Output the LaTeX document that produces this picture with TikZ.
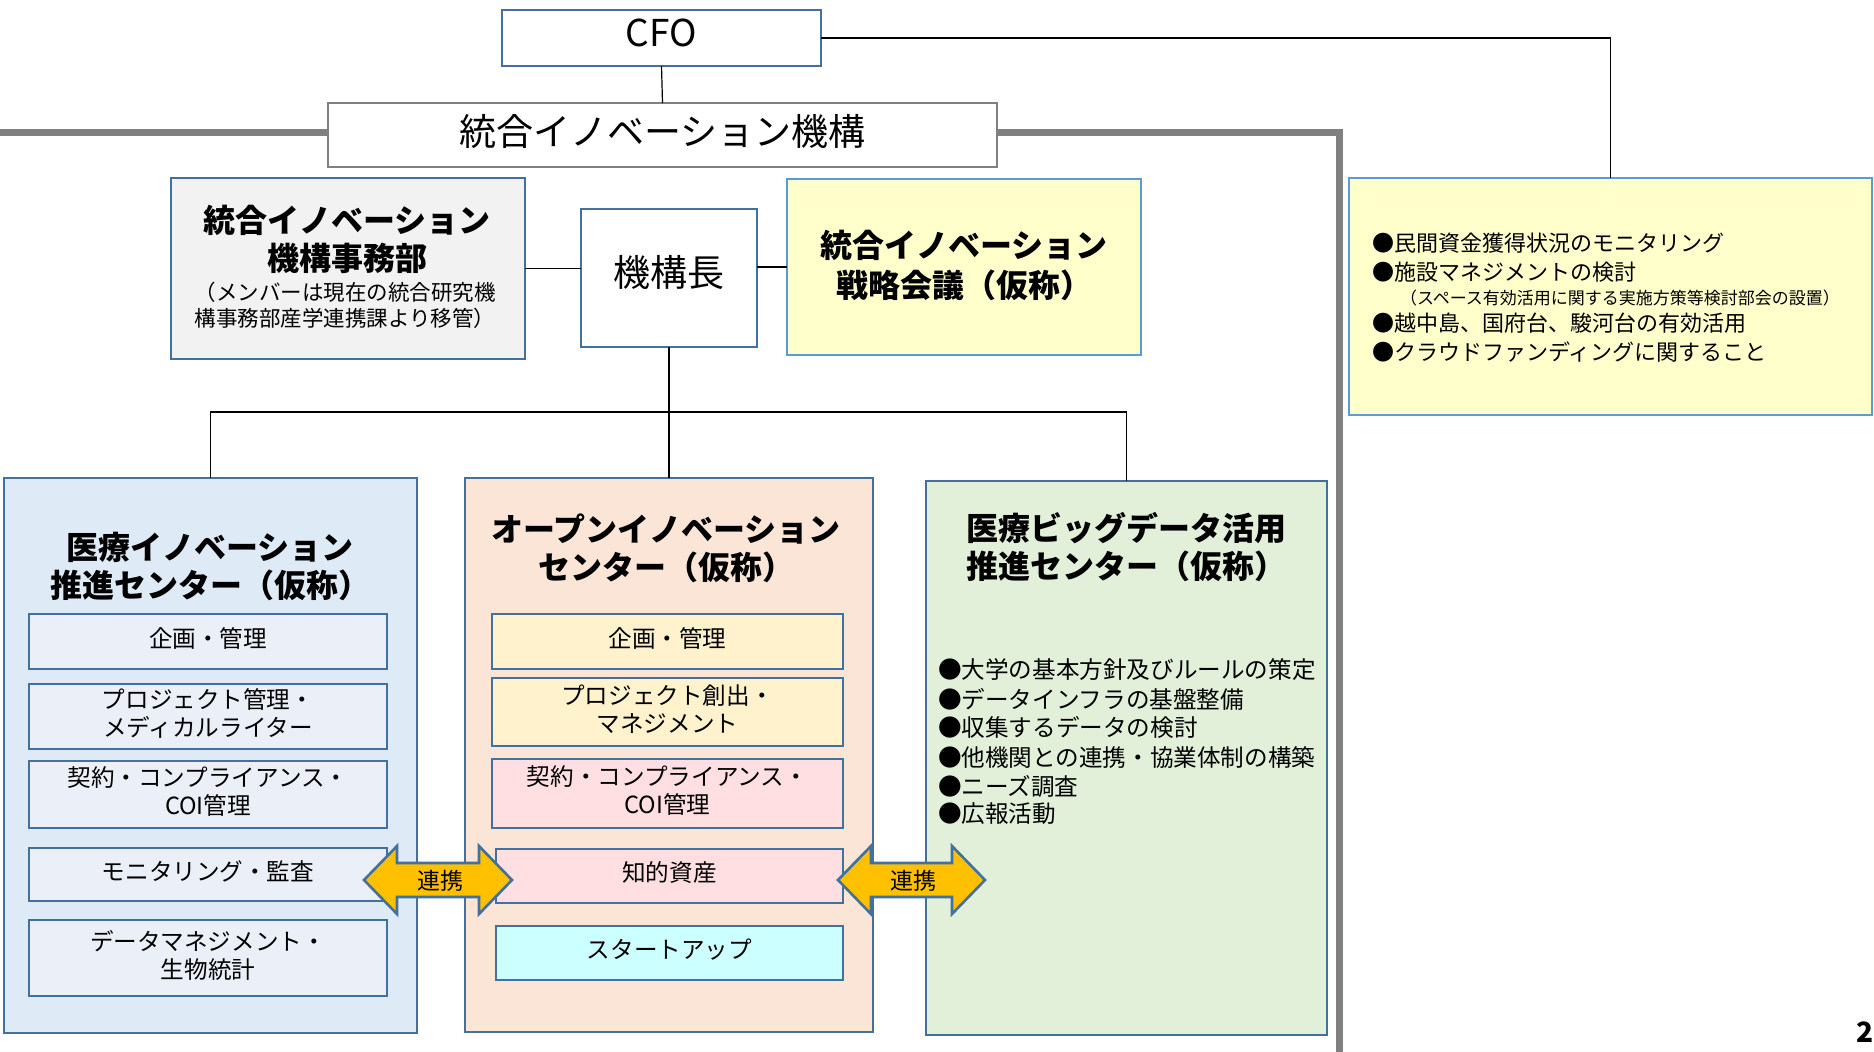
\documentclass[tikz,border=0pt]{standalone}
\usepackage{fontspec}
\setmainfont{Noto Sans CJK JP}
\definecolor{bdark}{HTML}{41719C}
\definecolor{blight}{HTML}{5B9BD5}
\definecolor{gline}{HTML}{808080}
\definecolor{fgray}{HTML}{F2F2F2}
\definecolor{fyel}{HTML}{FFFFCC}
\definecolor{flblue}{HTML}{DEEBF7}
\definecolor{flblue2}{HTML}{EBF0F8}
\definecolor{fpeach}{HTML}{FBE5D6}
\definecolor{fcream}{HTML}{FFF2CC}
\definecolor{fpink}{HTML}{FFDFE2}
\definecolor{fcyan}{HTML}{CCFFFF}
\definecolor{fgreen}{HTML}{E2F0D9}
\definecolor{arrowyel}{HTML}{FFC000}
\newcommand\mybox[7]{%
  \node[#6, minimum width={(#4-#2)*0.5pt}, minimum height={(#5-#3)*0.5pt}] (#1) at ({(#2+#4)/2},{(#3+#5)/2}) {#7};}
% box with text raised a little
\newcommand\tbox[8]{%
  \node[#6, minimum width={(#4-#2)*0.5pt}, minimum height={(#5-#3)*0.5pt}] (#1) at ({(#2+#4)/2},{(#3+#5)/2}) {};
  \node[#7] (#1-t) at ([yshift=1.5pt]#1.center) {#8};}
\tikzset{
  every node/.style={inner sep=0pt, outer sep=0pt, rectangle},
  conn/.style={draw=black, line width=0.6pt},
  bbox/.style={draw=bdark, line width=1.3pt},
  lbox/.style={draw=blight, line width=1.3pt},
  subtxt/.style={font=\fontsize{11.8}{14}\selectfont, align=center},
  titletxt/.style={font=\fontsize{16}{19}\selectfont\bfseries, align=center},
  bul/.style={anchor=west, font=\fontsize{11.8}{14}\selectfont},
  rbul/.style={anchor=west, font=\fontsize{11}{14}\selectfont},
  blockarrow/.style={fill=arrowyel, draw=bdark, line width=1.3pt},
  linktxt/.style={font=\fontsize{11.5}{13}\selectfont}
}
\begin{document}
\begin{tikzpicture}[x=0.5pt,y=-0.5pt]
\useasboundingbox (0,0) rectangle (1874,1051);
% thick gray frame line
\coordinate (gl0) at (-10,132.5);
\coordinate (gl1) at (1339,1070);
\draw[draw=gline, line width=3.5pt] (gl0) -| (gl1);
% top level
\mybox{cfo}{502}{10}{821}{66}{bbox, fill=white}{}
\node[font=\fontsize{18.5}{20}\selectfont] (cfo-t) at ([yshift=2.5pt]cfo.center) {CFO};
\mybox{org}{328}{103}{997}{167}{draw=gline, line width=1.2pt, fill=white}{}
\node[font=\fontsize{18.5}{22}\selectfont] (org-t) at ([yshift=1.8pt]org.center) {統合イノベーション機構};
\mybox{rbox}{1349}{178}{1872}{415}{lbox, fill=fyel}{}
\mybox{jimu}{171}{178}{525}{359}{bbox, fill=fgray}{}
\mybox{chou}{581}{209}{757}{347}{bbox, fill=white}{}
\node[font=\fontsize{18.5}{22}\selectfont] (chou-t) at ([yshift=3pt]chou.center) {機構長};
\mybox{strat}{787}{179}{1141}{355}{lbox, fill=fyel}{}
\node[font=\fontsize{16}{19}\selectfont\bfseries, align=center] (jimut) at (347,239) {統合イノベーション\\機構事務部};
\node[font=\fontsize{10.75}{13}\selectfont, align=center] (jimus) at (345,305) {（メンバーは現在の統合研究機\\構事務部産学連携課より移管）};
\node[font=\fontsize{16}{20}\selectfont\bfseries, align=center] (stratt) at (964,265) {統合イノベーション\\戦略会議（仮称）};
% right yellow bullets
\node[rbul] (r1) at (1372,243) {●民間資金獲得状況のモニタリング};
\node[rbul] (r2) at (1372,272) {●施設マネジメントの検討};
\node[anchor=west, font=\fontsize{8.5}{10}\selectfont] (r2s) at (1400,298) {（スペース有効活用に関する実施方策等検討部会の設置）};
\node[rbul] (r3) at (1372,323) {●越中島、国府台、駿河台の有効活用};
\node[rbul] (r4) at (1372,352) {●クラウドファンディングに関すること};
% connectors top
\draw[conn] (cfo.south) -- (org.north);
\draw[conn] (cfo.east) -| (rbox.north);
\draw[conn] (jimu.east) -- (jimu.east -| chou.west);
\draw[conn] (chou.east |- strat.west) -- (strat.west);
% centers
\mybox{lbig}{4}{478}{417}{1033}{bbox, fill=flblue}{}
\mybox{mbig}{465}{478}{873}{1032}{bbox, fill=fpeach}{}
\mybox{gbig}{926}{481}{1327}{1035}{bbox, fill=fgreen}{}
\coordinate (bus) at (669,412);
\draw[conn] (lbig.north) |- (gbig.north |- bus) -- (gbig.north);
\draw[conn] (chou.south) -- (mbig.north);
% titles
\node[titletxt] (lt) at (210,566) {医療イノベーション\\推進センター（仮称）};
\node[titletxt] (mt) at (666,548) {オープンイノベーション\\センター（仮称）};
\node[titletxt] (gt) at (1126,547) {医療ビッグデータ活用\\推進センター（仮称）};
% left sub boxes
\tbox{l1}{29}{614}{387}{669}{bbox, fill=flblue2}{subtxt}{企画・管理}
\tbox{l2}{29}{684}{387}{749}{bbox, fill=flblue2}{subtxt}{プロジェクト管理・\\メディカルライター}
\tbox{l3}{29}{761}{387}{828}{bbox, fill=flblue2}{subtxt}{契約・コンプライアンス・\\COI管理}
\tbox{l4}{29}{848}{387}{901}{bbox, fill=flblue2}{subtxt}{モニタリング・監査}
\tbox{l5}{29}{920}{387}{996}{bbox, fill=flblue2}{subtxt}{データマネジメント・\\生物統計}
% middle sub boxes
\tbox{m1}{492}{614}{843}{669}{bbox, fill=fcream}{subtxt}{企画・管理}
\tbox{m2}{492}{678}{843}{746}{bbox, fill=fcream}{subtxt}{プロジェクト創出・\\マネジメント}
\tbox{m3}{492}{759}{843}{828}{bbox, fill=fpink}{subtxt}{契約・コンプライアンス・\\COI管理}
\tbox{m4}{496}{849}{843}{903}{bbox, fill=fpink}{subtxt}{知的資産}
\tbox{m5}{496}{926}{843}{980}{bbox, fill=fcyan}{subtxt}{スタートアップ}
% green bullets
\node[bul] (g1) at (938,670) {●大学の基本方針及びルールの策定};
\node[bul] (g2) at (938,699) {●データインフラの基盤整備};
\node[bul] (g3) at (938,727) {●収集するデータの検討};
\node[bul] (g4) at (938,757) {●他機関との連携・協業体制の構築};
\node[bul] (g5) at (938,786) {●ニーズ調査};
\node[bul] (g6) at (938,814) {●広報活動};
% block arrows
\draw[blockarrow] (364,880) -- (397,846) -- (397,863) -- (479,863) -- (479,846) -- (512,880) -- (479,914) -- (479,897) -- (397,897) -- (397,914) -- cycle;
\draw[blockarrow] (838,880) -- (871,846) -- (871,863) -- (952,863) -- (952,846) -- (985,880) -- (952,914) -- (952,897) -- (871,897) -- (871,914) -- cycle;
\node[linktxt] (lk1) at (440,881) {連携};
\node[linktxt] (lk2) at (913,881) {連携};
% page number
\node[anchor=north west, font=\fontsize{14}{16}\selectfont\bfseries] (pg) at (1856,1022) {2};
\end{tikzpicture}
\end{document}
